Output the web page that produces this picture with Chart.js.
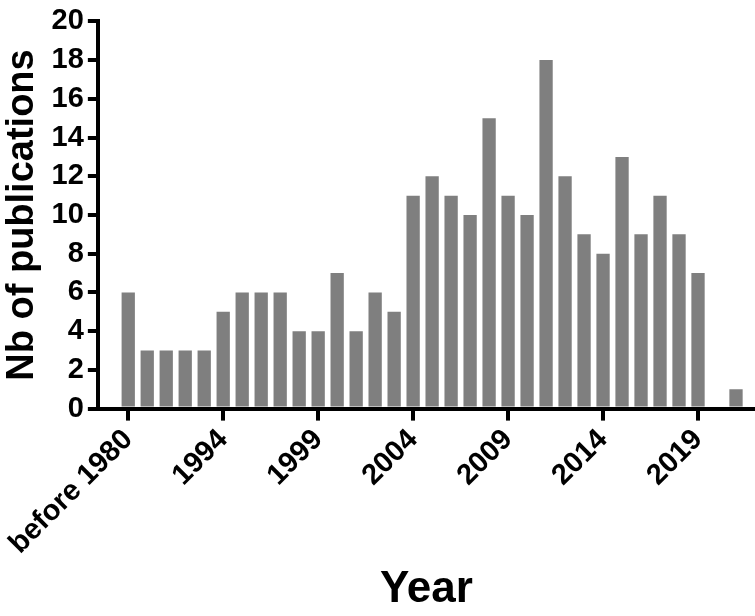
<!DOCTYPE html>
<html><head><meta charset="utf-8">
<script src="https://cdn.jsdelivr.net/npm/chart.js@4"></script>
<style>html,body{margin:0;padding:0;background:#fff}#w{width:755px;height:616px}</style>
</head><body><div id="w"><canvas id="c"></canvas></div>
<script>
const categories = ["before 1980","1990","1991","1992","1993","1994","1995","1996","1997","1998","1999","2000","2001","2002","2003","2004","2005","2006","2007","2008","2009","2010","2011","2012","2013","2014","2015","2016","2017","2018","2019","2020","2021"];
const publications = [6,3,3,3,3,5,6,6,6,4,4,7,4,6,5,11,12,11,10,15,11,10,18,12,9,8,13,9,11,9,7,0,1];
const tickIdx = [0,5,10,15,20,25,30];
const yTicks = [0,2,4,6,8,10,12,14,16,18,20];
const F = '"Liberation Sans", Arial, sans-serif';
new Chart(document.getElementById('c'), {
  type: 'bar',
  data: { datasets: [{ data: publications.map((v,i)=>({x:i,y:v})), backgroundColor:'#7f7f7f', barPercentage:0.7, categoryPercentage:1 }] },
  options: {
    responsive:true, maintainAspectRatio:false, animation:false,
    layout:{padding:{top:8,right:0,left:0,bottom:0}},
    plugins:{legend:{display:false},tooltip:{enabled:false}},
    scales:{
      x:{type:'linear', min:-1.6, max:33, offset:false,
        afterBuildTicks:s=>{s.ticks=tickIdx.map(v=>({value:v}));},
        ticks:{autoSkip:false, minRotation:45, maxRotation:45, padding:2, color:'#000', font:{family:F,size:29,weight:'bold'}, callback:v=>categories[v]},
        grid:{offset:false, drawOnChartArea:false, drawTicks:true, tickLength:12, lineWidth:4, color:'#000'},
        border:{width:4,color:'#000'},
        title:{display:true,text:'Year',color:'#000',font:{family:F,size:44,weight:'bold'},padding:{top:0,bottom:0}}
      },
      y:{min:0,max:20,
        afterBuildTicks:s=>{s.ticks=yTicks.map(v=>({value:v}));},
        ticks:{color:'#000', font:{family:F,size:29,weight:'bold'}, padding:4},
        grid:{offset:false, drawOnChartArea:false, drawTicks:true, tickLength:10, lineWidth:4, color:'#000'},
        border:{width:4,color:'#000'},
        title:{display:true,text:'Nb of publications',color:'#000',font:{family:F,size:38,weight:'bold'},padding:{top:0,bottom:2}}
      }
    }
  }
});
</script></body></html>
